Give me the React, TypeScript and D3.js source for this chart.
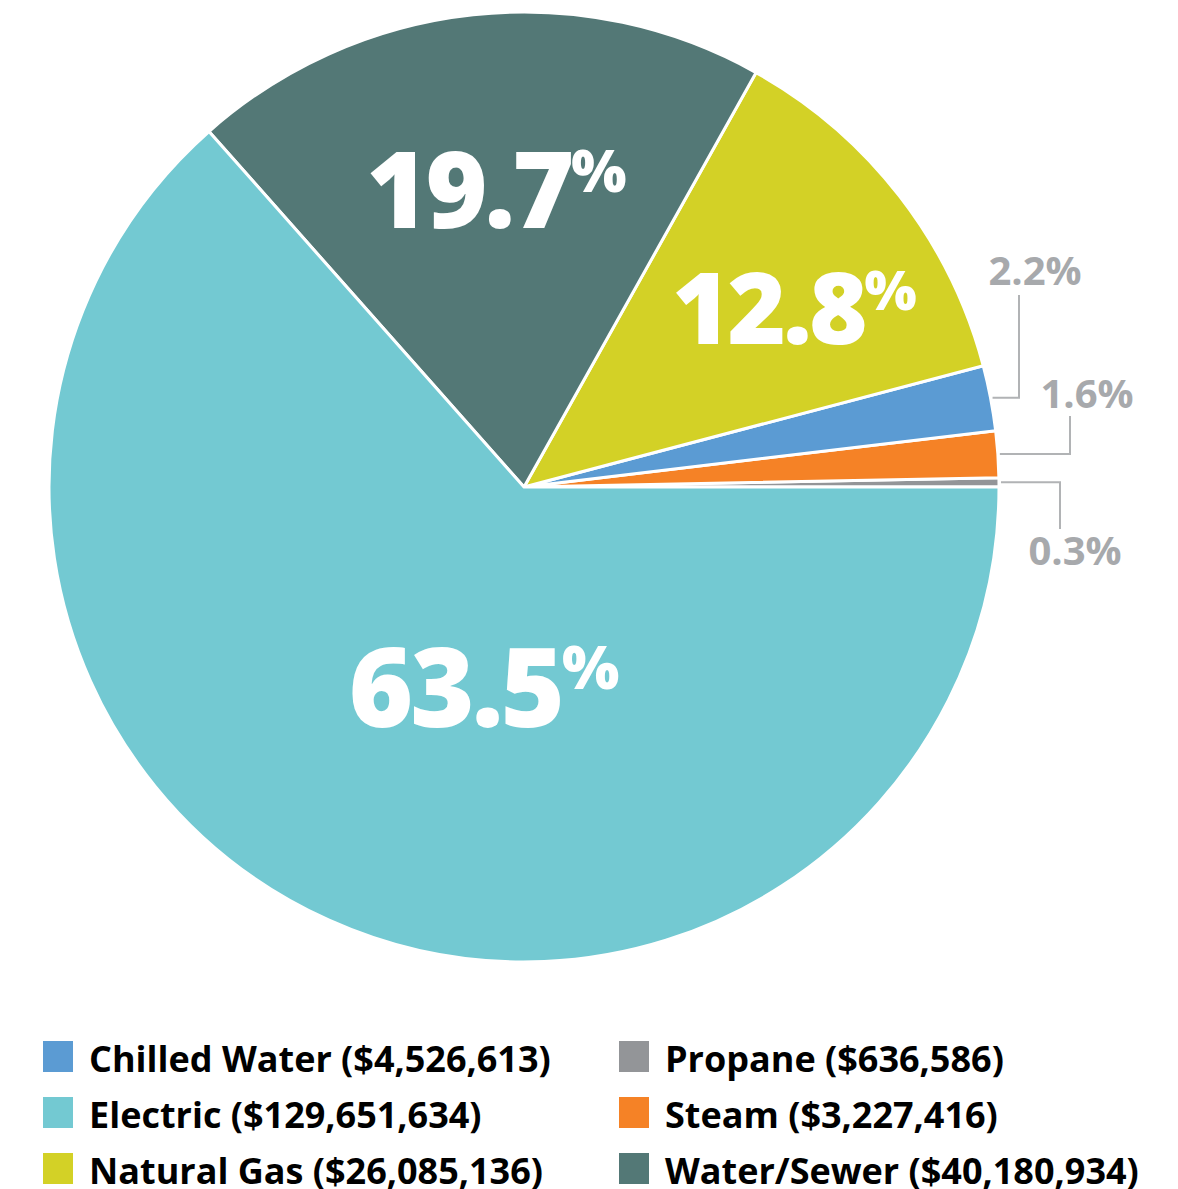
import React from 'react'
import * as d3 from 'd3'

// slice order, counter-clockwise from 3 o'clock
const categories = ['Propane', 'Steam', 'Chilled Water', 'Natural Gas', 'Water/Sewer', 'Electric']
const costs = [636586, 3227416, 4526613, 26085136, 40180934, 129651634]
const sliceColors = ['#939598', '#f58226', '#5b9bd3', '#d3d126', '#537876', '#73c9d2']

// legend is laid out in two columns
const legendOrder = ['Chilled Water', 'Electric', 'Natural Gas', 'Propane', 'Steam', 'Water/Sewer']
const bigLabels = ['Natural Gas', 'Water/Sewer', 'Electric']
const calloutLabels = ['Chilled Water', 'Steam', 'Propane']

const W = 1178
const H = 1189
const cx = 524
const cy = 487
const R = 475

const fmtMoney = d3.format('$,')

type Slice = { name: string; value: number; color: string }

const App: React.FC = () => {
  const data: Slice[] = categories.map((name, i) => ({ name, value: costs[i], color: sliceColors[i] }))
  const total = d3.sum(costs)

  const pie = d3.pie<Slice>()
    .sort(null)
    .value(d => d.value)
    .startAngle(Math.PI / 2)
    .endAngle(Math.PI / 2 - 2 * Math.PI)

  const arcs = pie(data)
  const arc = d3.arc<d3.PieArcDatum<Slice>>().innerRadius(0).outerRadius(R)
  const labelArc = d3.arc<d3.PieArcDatum<Slice>>().innerRadius(R * 0.6).outerRadius(R * 0.6)

  const pct = (v: number) => d3.format('.1f')((v / total) * 100)

  // hand-tuned nudges, the designer did not sit labels on the centroid
  const bigStyle: Record<string, { size: number; dx: number; dy: number }> = {
    'Water/Sewer': { size: 106, dx: 3, dy: -13 },
    'Natural Gas': { size: 100, dx: 45, dy: -4 },
    'Electric': { size: 110, dx: 77, dy: -59 },
  }

  // elbow leader lines for the thin slices
  const callout: Record<string, { elbow: number; lineEnd: number; lx: number; ly: number }> = {
    'Chilled Water': { elbow: 20, lineEnd: 295, lx: 1035, ly: 285 },
    'Steam': { elbow: 71, lineEnd: 416, lx: 1087, ly: 408 },
    'Propane': { elbow: 61, lineEnd: 529, lx: 1075, ly: 565 },
  }

  const mid = (a: d3.PieArcDatum<Slice>) => (a.startAngle + a.endAngle) / 2

  const legendX = d3.scaleOrdinal<number, number>().domain([0, 1]).range([43, 619])
  const legendY = d3.scaleLinear().domain([0, 2]).range([1041, 1153])

  return (
    <svg width={W} height={H} style={{ position: 'absolute', left: 0, top: 0 }}
      fontFamily="'Open Sans', sans-serif">
      <rect width={W} height={H} fill="#fff" />
      <g transform={`translate(${cx},${cy})`}>
        {arcs.map(a => (
          <path key={a.data.name} d={arc(a) || ''} fill={a.data.color} stroke="#fff" strokeWidth={3} strokeLinejoin="round" />
        ))}
      </g>

      {arcs.filter(a => bigLabels.includes(a.data.name)).map(a => {
        const s = bigStyle[a.data.name]
        const [x, y] = labelArc.centroid(a)
        const px = cx + x + s.dx
        const py = cy + y + s.dy + s.size * 0.357
        return (
          <text key={a.data.name} x={px} y={py} textAnchor="middle" fill="#fff"
            fontWeight={800} fontSize={s.size} letterSpacing={-3}>
            {pct(a.data.value)}
            <tspan fontSize={s.size * 0.55} dy={-s.size * 0.345} letterSpacing={0}>%</tspan>
          </text>
        )
      })}

      {arcs.filter(a => calloutLabels.includes(a.data.name)).map(a => {
        const c = callout[a.data.name]
        const m = mid(a)
        const x0 = cx + Math.sin(m) * (R + 2)
        const y0 = cy - Math.cos(m) * (R + 2)
        const ex = cx + R + c.elbow
        return (
          <g key={a.data.name}>
            <path d={`M${x0},${y0}H${ex}V${c.lineEnd}`} fill="none" stroke="#b1b3b5" strokeWidth={2} />
            <text x={c.lx} y={c.ly} textAnchor="middle" fill="#a7a9ac" fontWeight={700} fontSize={40}>
              {pct(a.data.value)}%
            </text>
          </g>
        )
      })}

      {legendOrder.map((name, i) => {
        const col = Math.floor(i / 3)
        const row = i % 3
        const d = data.find(s => s.name === name)!
        const x = legendX(col)
        const y = legendY(row)
        return (
          <g key={name} transform={`translate(${x},${y})`}>
            <rect width={30} height={31} fill={d.color} />
            <text x={46} y={31} fontWeight={700} fontSize={36} fill="#000">
              {name} ({fmtMoney(d.value)})
            </text>
          </g>
        )
      })}
    </svg>
  )
}

export default App
